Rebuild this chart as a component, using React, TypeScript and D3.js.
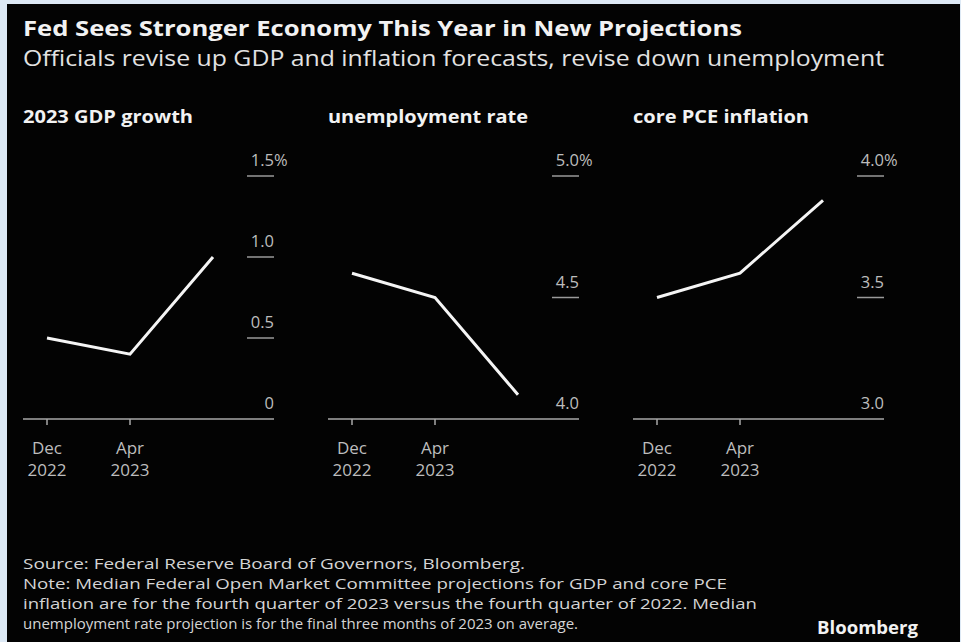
import React from "react";
import * as d3 from "d3";

const categories = ["Dec 2022", "Apr 2023", "Jun 2023"];
const tickCategories = ["Dec 2022", "Apr 2023"];
const gdpValues = [0.5, 0.4, 1.0];
const unemploymentValues = [4.6, 4.5, 4.1];
const corePceValues = [3.5, 3.6, 3.9];
const gdpTicks = [0, 0.5, 1.0, 1.5];
const unemploymentTicks = [4.0, 4.5, 5.0];
const corePceTicks = [3.0, 3.5, 4.0];
const panelTitles = ["2023 GDP growth", "unemployment rate", "core PCE inflation"];

const title = "Fed Sees Stronger Economy This Year in New Projections";
const subtitle = "Officials revise up GDP and inflation forecasts, revise down unemployment";
const footerLines = [
  "Source: Federal Reserve Board of Governors, Bloomberg.",
  "Note: Median Federal Open Market Committee projections for GDP and core PCE",
  "inflation are for the fourth quarter of 2023 versus the fourth quarter of 2022. Median",
  "unemployment rate projection is for the final three months of 2023 on average.",
];

const W = 961;
const H = 642;
const FONT = "'Open Sans', 'Noto Sans', sans-serif";

type Panel = {
  title: string;
  titleWidth: number;
  values: number[];
  ticks: number[];
  fmt: (v: number) => string;
};

const panels: Panel[] = [
  { title: panelTitles[0], titleWidth: 170, values: gdpValues, ticks: gdpTicks, fmt: (v) => (v === 0 ? "0" : d3.format(".1f")(v)) },
  { title: panelTitles[1], titleWidth: 200, values: unemploymentValues, ticks: unemploymentTicks, fmt: d3.format(".1f") },
  { title: panelTitles[2], titleWidth: 176, values: corePceValues, ticks: corePceTicks, fmt: d3.format(".1f") },
];

const panelLeft = [23, 328, 633];
const panelWidth = 251;
const yTop = 176;
const yBottom = 419;
const LABEL = "#bdbdbd";

function PanelView({ p, x0 }: { p: Panel; x0: number }) {
  const x = d3.scalePoint<string>().domain(categories).range([x0 + 24, x0 + 190]);
  const ext = d3.extent(p.ticks) as [number, number];
  const y = d3.scaleLinear().domain(ext).range([yBottom, yTop]);
  const line = d3
    .line<number>()
    .x((_, i) => x(categories[i]) as number)
    .y((d) => y(d));
  const right = x0 + panelWidth;
  const maxTick = ext[1];
  return (
    <g>
      <text
        x={x0}
        y={123}
        fill="#f2f2f2"
        fontSize={18}
        fontWeight={700}
        fontFamily={FONT}
        textLength={p.titleWidth}
        lengthAdjust="spacingAndGlyphs"
      >
        {p.title}
      </text>
      {p.ticks.map((t) => (
        <g key={t}>
          {t !== ext[0] && (
            <line x1={right - 27} x2={right} y1={y(t)} y2={y(t)} stroke="#9a9a9a" strokeWidth={1.5} />
          )}
          <text x={right} y={y(t) - 10} fill={LABEL} fontSize={16.5} fontFamily={FONT} textAnchor="end">
            {p.fmt(t)}
          </text>
          {t === maxTick && (
            <text x={right} y={y(t) - 10} fill={LABEL} fontSize={16.5} fontFamily={FONT}>
              %
            </text>
          )}
        </g>
      ))}
      <line x1={x0} x2={right} y1={yBottom} y2={yBottom} stroke="#a8a8a8" strokeWidth={1.5} />
      {tickCategories.map((c) => {
        const [m, yr] = c.split(" ");
        const cx = x(c) as number;
        return (
          <g key={c}>
            <line x1={cx} x2={cx} y1={yBottom} y2={yBottom + 6} stroke="#a8a8a8" strokeWidth={1.5} />
            <text x={cx} y={454} fill={LABEL} fontSize={17} fontFamily={FONT} textAnchor="middle">
              {m}
            </text>
            <text x={cx} y={476} fill={LABEL} fontSize={17} fontFamily={FONT} textAnchor="middle">
              {yr}
            </text>
          </g>
        );
      })}
      <path
        d={line(p.values) || ""}
        fill="none"
        stroke="#f5f5f5"
        strokeWidth={3}
        strokeLinejoin="miter"
        strokeLinecap="butt"
      />
    </g>
  );
}

export default function App() {
  const footerWidths = [502, 704, 734, 555];
  return (
    <svg
      width={W}
      height={H}
      viewBox={`0 0 ${W} ${H}`}
      style={{ position: "absolute", left: 0, top: 0, display: "block" }}
    >
      <rect x={0} y={0} width={W} height={H} fill="#dde9f5" />
      <rect x={7} y={4} width={W - 8} height={H - 4} fill="#030303" />
      <text
        x={23}
        y={36}
        fill="#f2f2f2"
        fontSize={22}
        fontWeight={700}
        fontFamily={FONT}
        textLength={719}
        lengthAdjust="spacingAndGlyphs"
      >
        {title}
      </text>
      <text
        x={23}
        y={66}
        fill="#e2e2e2"
        fontSize={21}
        fontFamily={FONT}
        textLength={861}
        lengthAdjust="spacingAndGlyphs"
      >
        {subtitle}
      </text>
      {panels.map((p, i) => (
        <PanelView key={p.title} p={p} x0={panelLeft[i]} />
      ))}
      {footerLines.map((l, i) => (
        <text
          key={i}
          x={23}
          y={569 + i * 20}
          fill="#d4d4d4"
          fontSize={14.5}
          fontFamily={FONT}
          textLength={footerWidths[i]}
          lengthAdjust="spacingAndGlyphs"
        >
          {l}
        </text>
      ))}
      <text
        x={817}
        y={634}
        fill="#f2f2f2"
        fontSize={17}
        fontWeight={700}
        fontFamily={FONT}
        textLength={101}
        lengthAdjust="spacingAndGlyphs"
      >
        Bloomberg
      </text>
    </svg>
  );
}
